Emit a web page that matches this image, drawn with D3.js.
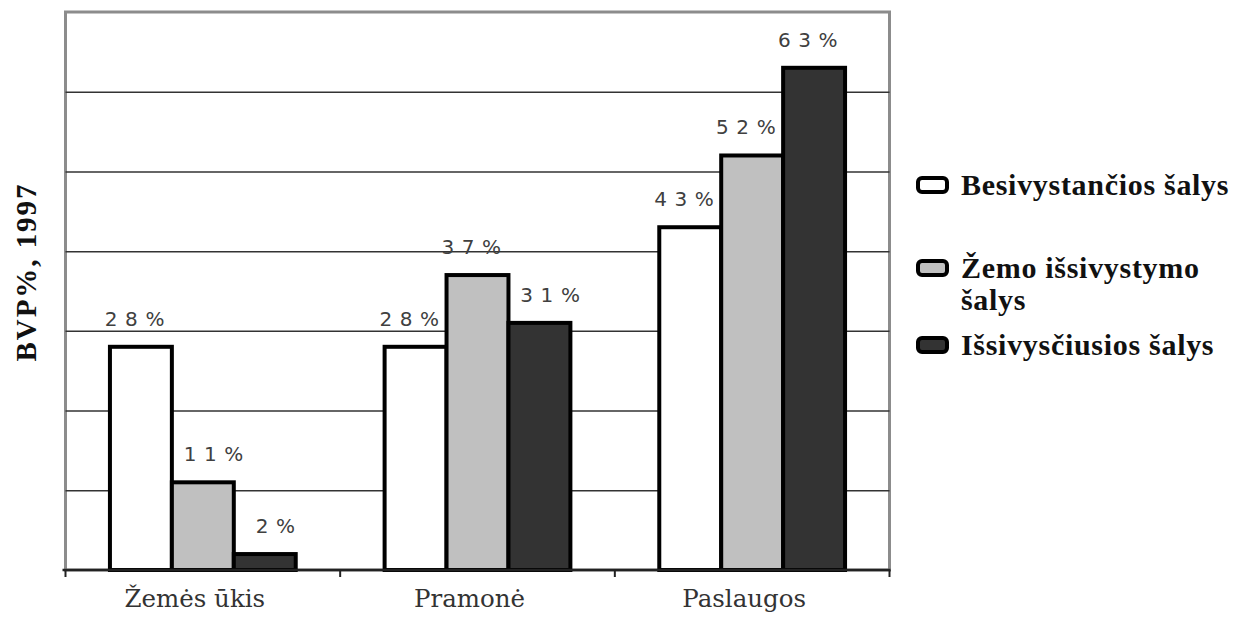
<!DOCTYPE html>
<html>
<head>
<meta charset="utf-8">
<script src="https://cdn.jsdelivr.net/npm/d3@7"></script>
<style>
  html, body { margin: 0; padding: 0; background: #fff; }
  svg { display: block; }
</style>
</head>
<body>
<svg id="chart" width="1245" height="621"></svg>
<script>
// ---- data ----
const categories = ["Žemės ūkis", "Pramonė", "Paslaugos"];
const seriesNames = ["Besivystančios šalys", "Žemo išsivystymo šalys", "Išsivysčiusios šalys"];
const developing = [28, 28, 43];
const lowDeveloped = [11, 37, 52];
const developed = [2, 31, 63];
const yTicks = [10, 20, 30, 40, 50, 60];
const yTitle = "BVP%, 1997";

// ---- layout ----
const plot = { left: 65.5, right: 889.5, top: 12, bottom: 570 };
const colors = ["#ffffff", "#c0c0c0", "#333333"];
const seriesValues = [developing, lowDeveloped, developed];

const svg = d3.select("#chart");

const x0 = d3.scaleBand()
  .domain(categories)
  .range([plot.left, plot.right])
  .paddingInner(0.3236)
  .paddingOuter(0.1618);

const x1 = d3.scaleBand()
  .domain(d3.range(seriesNames.length))
  .range([0, x0.bandwidth()])
  .padding(0);

const y = d3.scaleLinear().domain([0, 70]).range([plot.bottom, plot.top]);

// frame
svg.append("rect")
  .attr("x", plot.left).attr("y", plot.top)
  .attr("width", plot.right - plot.left)
  .attr("height", plot.bottom - plot.top)
  .attr("fill", "#fff")
  .attr("stroke", "#8c8c8c")
  .attr("stroke-width", 3);

// gridlines via axis
const grid = svg.append("g")
  .attr("transform", `translate(${plot.left},0)`)
  .call(d3.axisRight(y).tickValues(yTicks).tickSize(plot.right - plot.left).tickFormat(""));
grid.select(".domain").remove();
grid.selectAll(".tick line").attr("stroke", "#333").attr("stroke-width", 1.5);

// bars
const rows = categories.map((c, i) => ({ cat: c, vals: seriesValues.map(s => s[i]) }));
const groups = svg.append("g").selectAll("g")
  .data(rows).join("g")
  .attr("transform", d => `translate(${x0(d.cat)},0)`);

groups.selectAll("rect")
  .data(d => d.vals.map((v, j) => ({ v, j })))
  .join("rect")
  .attr("x", d => x1(d.j))
  .attr("y", d => y(d.v))
  .attr("width", x1.bandwidth())
  .attr("height", d => y(0) - y(d.v))
  .attr("fill", d => colors[d.j])
  .attr("stroke", "#000")
  .attr("stroke-width", 4)
  .attr("stroke-linejoin", "miter");

// value labels
groups.selectAll("text.val")
  .data(d => d.vals.map((v, j) => ({ v, j, prev: j > 0 ? d.vals[j - 1] : -1 })))
  .join("text")
  .attr("class", "val")
  .attr("x", d => x1(d.j) + x1.bandwidth() / 2 + (d.prev > d.v ? 11 : -6))
  .attr("y", d => y(d.v) - 21)
  .attr("text-anchor", "middle")
  .attr("font-family", "DejaVu Sans, sans-serif")
  .attr("font-size", 20)
  .attr("letter-spacing", 0.6)
  .attr("fill", "#404040")
  .text(d => String(d.v).split("").join(" ") + " %");

// bottom axis
const xAxis = svg.append("g")
  .attr("transform", `translate(0,${plot.bottom})`)
  .call(d3.axisBottom(x0).tickSize(0).tickPadding(19));
xAxis.select(".domain")
  .attr("d", `M${plot.left - 3},0H${plot.right + 1}`)
  .attr("stroke", "#222").attr("stroke-width", 2.5);
xAxis.selectAll(".tick text")
  .attr("font-family", "DejaVu Serif, serif")
  .attr("font-size", 24.5)
  .attr("fill", "#333")
  .attr("dy", "0.75em")
  .attr("dx", -8);

// boundary ticks
const step = x0.step();
svg.append("g").selectAll("line")
  .data([plot.left, ...categories.slice(1).map(c => x0(c) - step * x0.paddingInner() / 2), plot.right])
  .join("line")
  .attr("x1", d => d).attr("x2", d => d)
  .attr("y1", plot.bottom).attr("y2", plot.bottom + 7)
  .attr("stroke", "#222").attr("stroke-width", 2);

// y title
svg.append("text")
  .attr("transform", `translate(36,${273}) rotate(-90)`)
  .attr("text-anchor", "middle")
  .attr("font-family", "Liberation Serif, Times New Roman, serif")
  .attr("font-weight", "bold")
  .attr("font-size", 29)
  .attr("fill", "#111")
  .attr("textLength", 177)
  .attr("lengthAdjust", "spacing")
  .text(yTitle);

// legend
const legendBaselines = [195, 278, 355];
const legend = svg.append("g");
seriesNames.forEach((name, i) => {
  const g = legend.append("g");
  g.append("rect")
    .attr("x", 918).attr("y", legendBaselines[i] - 17)
    .attr("width", 29).attr("height", 14)
    .attr("rx", 4)
    .attr("fill", colors[i])
    .attr("stroke", "#000").attr("stroke-width", 4);
  const t = g.append("text")
    .attr("x", 961).attr("y", legendBaselines[i])
    .attr("font-family", "Liberation Serif, Times New Roman, serif")
    .attr("font-weight", "bold")
    .attr("font-size", 30)
    .attr("letter-spacing", 0.7)
    .attr("fill", "#111");
  // wrap words to max width
  const words = name.split(" ");
  let line = [];
  let tspan = t.append("tspan").attr("x", 961).attr("dy", 0);
  words.forEach(w => {
    line.push(w);
    tspan.text(line.join(" "));
    if (tspan.node().getComputedTextLength() > 280 && line.length > 1) {
      line.pop();
      tspan.text(line.join(" "));
      line = [w];
      tspan = t.append("tspan").attr("x", 961).attr("dy", 32).text(w);
    }
  });
});
</script>
</body>
</html>
